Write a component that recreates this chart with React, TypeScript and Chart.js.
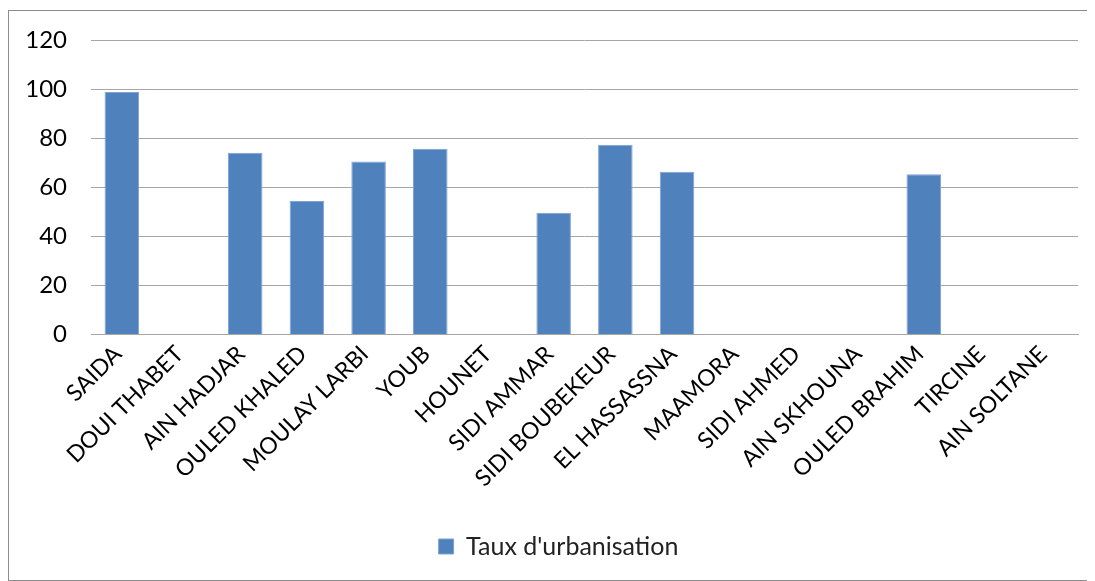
import React, { useEffect, useRef } from "react";
import { Chart, registerables } from "chart.js";

Chart.register(...registerables);

const categories = [
  "SAIDA",
  "DOUI THABET",
  "AIN HADJAR",
  "OULED KHALED",
  "MOULAY LARBI",
  "YOUB",
  "HOUNET",
  "SIDI AMMAR",
  "SIDI BOUBEKEUR",
  "EL HASSASSNA",
  "MAAMORA",
  "SIDI AHMED",
  "AIN SKHOUNA",
  "OULED BRAHIM",
  "TIRCINE",
  "AIN SOLTANE",
];

const seriesLabel = "Taux d'urbanisation";
const urbanisation: (number | null)[] = [
  98.8, null, 74.1, 54.4, 70.5, 75.7, null, 49.6, 77.3, 66.3, null, null, null, 65.3, null, null,
];

const yTicks = [0, 20, 40, 60, 80, 100, 120];

const legendShift = {
  id: "legendShift",
  afterLayout(chart: any) {
    const lg = chart.legend;
    if (lg) {
      lg.left += 15;
      lg.right += 15;
    }
  },
};

export default function App() {
  const ref = useRef<HTMLCanvasElement | null>(null);
  useEffect(() => {
    if (!ref.current) return;
    const font = "Lato, 'Open Sans', sans-serif";
    const chart = new Chart(ref.current, {
      type: "bar",
      data: {
        labels: categories,
        datasets: [
          {
            label: seriesLabel,
            data: urbanisation,
            backgroundColor: "#4F81BD",
            borderColor: "#7FA3D3",
            borderWidth: 1,
            categoryPercentage: 1,
            barPercentage: 0.56,
          },
        ],
      },
      plugins: [legendShift],
      options: {
        animation: false,
        responsive: false,
        maintainAspectRatio: false,
        layout: { padding: { left: 0, right: 12, top: 29, bottom: 11 } },
        plugins: {
          tooltip: { enabled: false },
          legend: {
            position: "bottom",
            labels: {
              font: { family: font, size: 25 },
              color: "#222",
              boxWidth: 15,
              boxHeight: 15,
              padding: 10,
            },
          },
        },
        scales: {
          x: {
            grid: { display: false, drawTicks: false },
            border: { display: true, color: "#A6A6A6", width: 1 },
            ticks: {
              minRotation: 45,
              maxRotation: 45,
              autoSkip: false,
              padding: 6,
              labelOffset: -4,
              font: { family: font, size: 23 },
              color: "#000",
            },
            afterFit: (scale: any) => {
              scale.height = 189.5;
            },
          },
          y: {
            min: 0,
            max: 120,
            afterBuildTicks: (scale: any) => {
              scale.ticks = yTicks.map((v) => ({ value: v }));
            },
            afterFit: (scale: any) => {
              scale.width = 82;
            },
            grid: {
              color: "#A6A6A6",
              lineWidth: 1,
              drawTicks: true,
              tickLength: 24,
              tickColor: "rgba(0,0,0,0)",
            },
            border: { display: false },
            ticks: {
              padding: 0,
              font: { family: font, size: 24 },
              color: "#000",
            },
          },
        },
      },
    });
    return () => chart.destroy();
  }, []);
  return (
    <div
      style={{
        width: 1081,
        height: 569,
        marginTop: 2,
        border: "1px solid #8c8c8c",
        boxShadow: "1px 1px 1px #bbb",
        background: "#fff",
      }}
    >
      <canvas ref={ref} width={1081} height={569} style={{ display: "block" }} />
    </div>
  );
}
